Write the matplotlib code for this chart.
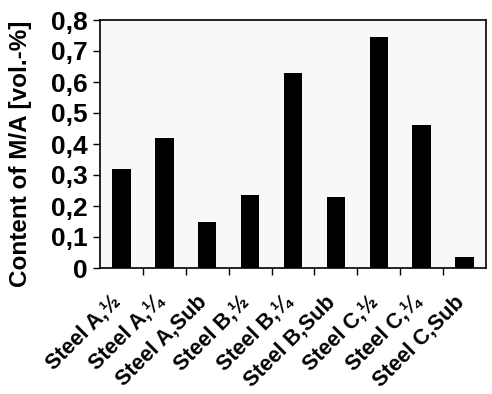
import numpy as np
import matplotlib.pyplot as plt
from matplotlib.ticker import FixedLocator, FuncFormatter
from matplotlib.transforms import ScaledTranslation

plt.rcParams['font.family'] = ['Liberation Sans', 'DejaVu Sans']
plt.rcParams['font.weight'] = 'bold'

labels = ["Steel A,½", "Steel A,¼", "Steel A,Sub",
          "Steel B,½", "Steel B,¼", "Steel B,Sub",
          "Steel C,½", "Steel C,¼", "Steel C,Sub"]
values = [0.32, 0.42, 0.15, 0.235, 0.63, 0.23, 0.745, 0.46, 0.035]
yticks = [0, 0.1, 0.2, 0.3, 0.4, 0.5, 0.6, 0.7, 0.8]

fig = plt.figure(figsize=(4.92, 3.94), dpi=100)
ax = fig.add_axes([100 / 492, 1 - 268 / 394, 386 / 492, 248 / 394])
ax.set_facecolor('#f6f9f8')

x = np.arange(len(values))
ax.bar(x, values, width=0.43, color='black')

ax.set_xlim(-0.5, len(values) - 0.5)
ax.set_ylim(0, 0.8)
ax.set_yticks(yticks)
ax.yaxis.set_major_formatter(FuncFormatter(lambda v, p: f"{v:g}".replace('.', ',')))
ax.tick_params(axis='y', labelsize=19, length=5, width=1, pad=4)

ax.set_xticks(x)
ax.set_xticklabels(labels, rotation=45, ha='right', rotation_mode='anchor',
                   fontsize=15.5, fontweight='bold')
ax.tick_params(axis='x', length=0, pad=17)
shift = ScaledTranslation(-8 / 72, 0, fig.dpi_scale_trans)
for lab in ax.get_xticklabels():
    lab.set_transform(lab.get_transform() + shift)
ax.xaxis.set_minor_locator(FixedLocator(np.arange(0.5, len(values) - 0.5, 1)))
ax.tick_params(axis='x', which='minor', length=5, width=1)

for s in ax.spines.values():
    s.set_linewidth(1.2)

ax.set_ylabel("Content of M/A [vol.-%]", fontsize=17.5, fontweight='bold')
ax.yaxis.set_label_coords(-0.176, 0.46)

fig.savefig('out.png', dpi=100)
